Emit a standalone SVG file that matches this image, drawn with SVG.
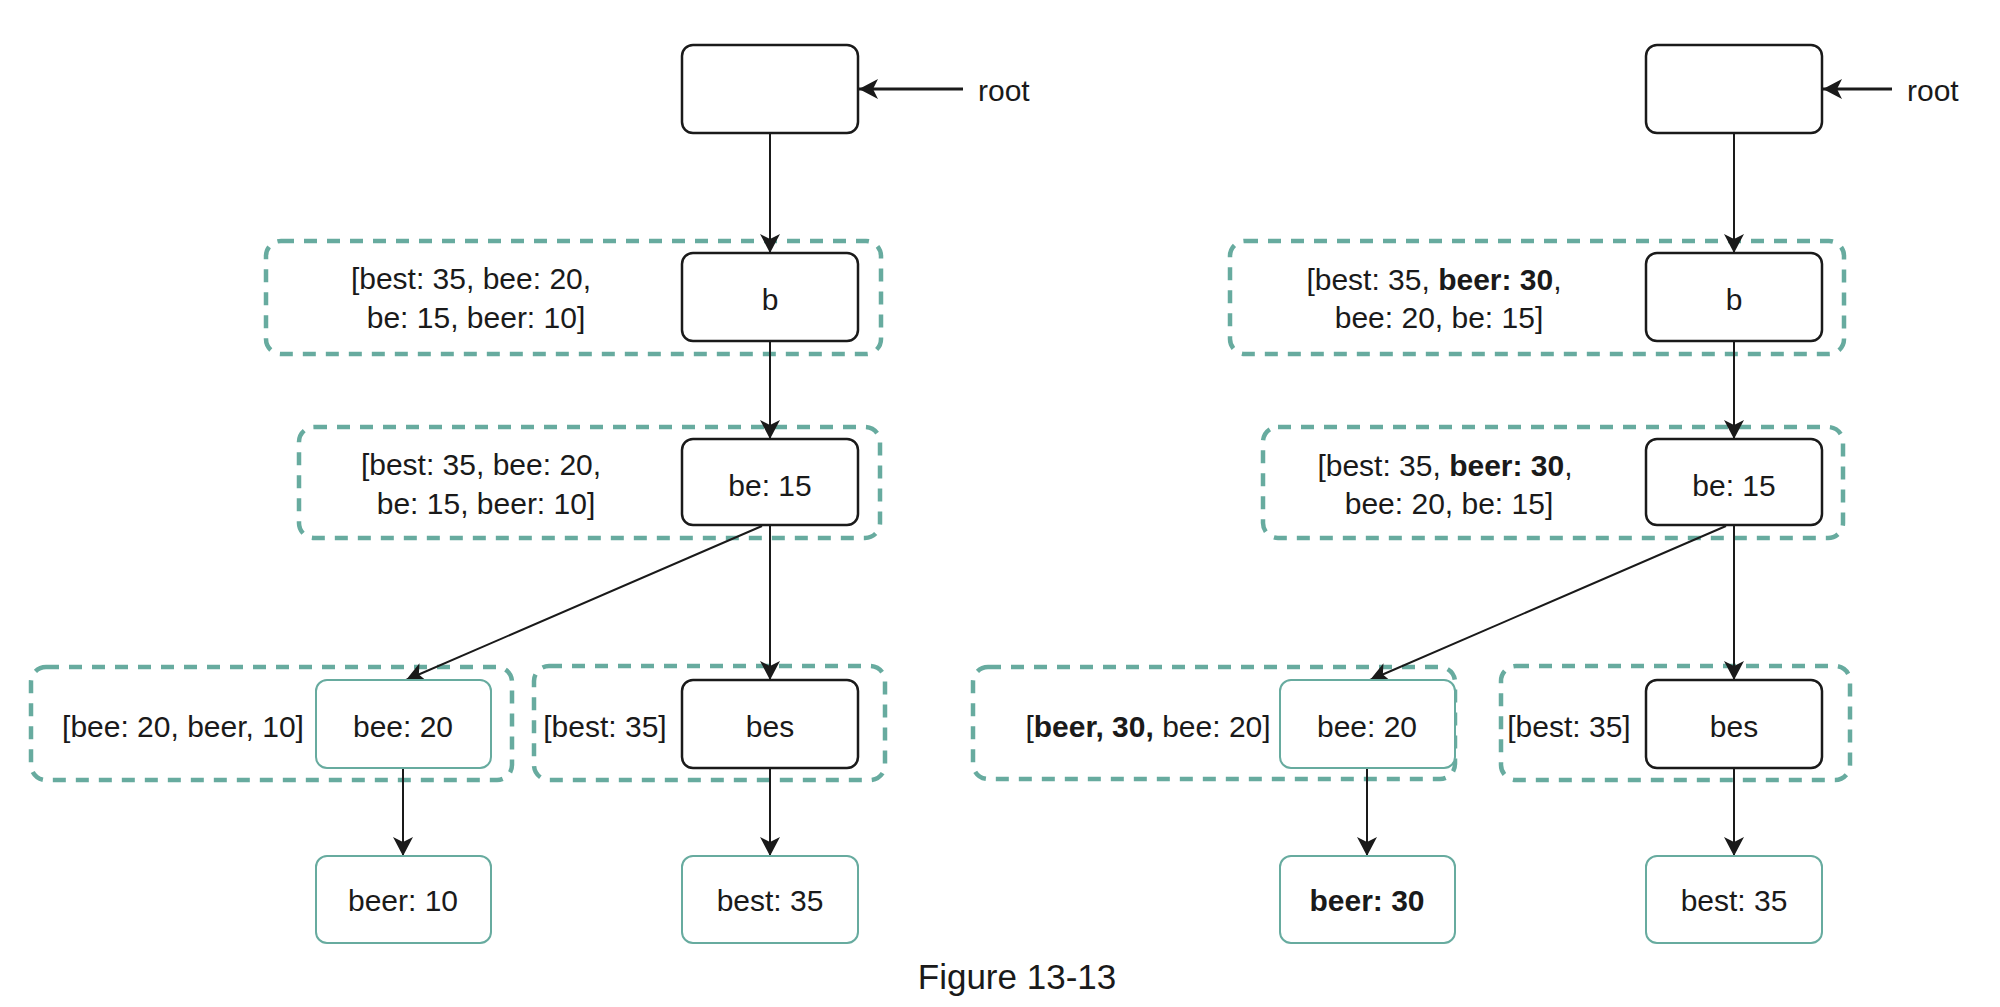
<svg xmlns="http://www.w3.org/2000/svg" width="2000" height="1007" viewBox="0 0 2000 1007">
<style>
  text { font-family: "Liberation Sans", Arial, sans-serif; font-size: 30px; fill: #1a1a1a; }
  .mid { text-anchor: middle; }
  .b { font-weight: bold; }
  .node { fill: #ffffff; stroke: #1a1a1a; stroke-width: 2.5; }
  .leaf { fill: #ffffff; stroke: #67AB9F; stroke-width: 2; }
  .grp { fill: none; stroke: #67AB9F; stroke-width: 4.5; stroke-dasharray: 13 10; }
  .edge { fill: none; stroke: #1a1a1a; stroke-width: 2; marker-end: url(#arrow); }
  .edge2 { fill: none; stroke: #1a1a1a; stroke-width: 3; marker-end: url(#arrow); }
</style>
<defs>
  <marker id="arrow" markerUnits="userSpaceOnUse" markerWidth="22" markerHeight="22" refX="19" refY="10" orient="auto">
    <path d="M0,0 L19,10 L0,20 L5,10 Z" fill="#1a1a1a"/>
  </marker>
</defs>
<rect x="0" y="0" width="2000" height="1007" fill="#ffffff"/>

<!-- dashed groups -->
<g id="groups">
  <rect class="grp" x="266" y="241" width="615" height="113" rx="15"/>
  <rect class="grp" x="299" y="427" width="581" height="111" rx="15"/>
  <rect class="grp" x="31" y="667" width="481" height="113" rx="15"/>
  <rect class="grp" x="534" y="666" width="351" height="114" rx="15"/>
  <rect class="grp" x="1230" y="241" width="614" height="113" rx="15"/>
  <rect class="grp" x="1263" y="427" width="580" height="111" rx="15"/>
  <rect class="grp" x="973" y="667" width="482" height="112" rx="15"/>
  <rect class="grp" x="1501" y="666" width="349" height="114" rx="15"/>
</g>

<!-- connectors -->
<g id="connectors">
  <line class="edge2" x1="963" y1="89" x2="859" y2="89"/>
  <line class="edge" x1="770" y1="133" x2="770" y2="253"/>
  <line class="edge" x1="770" y1="341" x2="770" y2="439"/>
  <line class="edge" x1="770" y1="525" x2="770" y2="680"/>
  <line class="edge" x1="762" y1="526" x2="406" y2="680"/>
  <line class="edge" x1="403" y1="768" x2="403" y2="856"/>
  <line class="edge" x1="770" y1="768" x2="770" y2="856"/>

  <line class="edge2" x1="1892" y1="89" x2="1823" y2="89"/>
  <line class="edge" x1="1734" y1="133" x2="1734" y2="253"/>
  <line class="edge" x1="1734" y1="341" x2="1734" y2="439"/>
  <line class="edge" x1="1734" y1="525" x2="1734" y2="680"/>
  <line class="edge" x1="1726" y1="526" x2="1370" y2="680"/>
  <line class="edge" x1="1367" y1="768" x2="1367" y2="856"/>
  <line class="edge" x1="1734" y1="768" x2="1734" y2="856"/>
</g>

<!-- left tree -->
<g id="L-root">
  <rect class="node" x="682" y="45" width="176" height="88" rx="11"/>
  <text x="978" y="101">root</text>
</g>
<g id="L-b">
  <rect class="node" x="682" y="253" width="176" height="88" rx="11"/>
  <text class="mid" x="770" y="310">b</text>
  <text class="mid" x="471" y="289">[best: 35, bee: 20,</text>
  <text class="mid" x="476" y="328">be: 15, beer: 10]</text>
</g>
<g id="L-be">
  <rect class="node" x="682" y="439" width="176" height="86" rx="11"/>
  <text class="mid" x="770" y="496">be: 15</text>
  <text class="mid" x="481" y="475">[best: 35, bee: 20,</text>
  <text class="mid" x="486" y="514">be: 15, beer: 10]</text>
</g>
<g id="L-bee">
  <rect class="leaf" x="316" y="680" width="175" height="88" rx="11"/>
  <text class="mid" x="403" y="737">bee: 20</text>
  <text class="mid" x="183" y="737">[bee: 20, beer, 10]</text>
</g>
<g id="L-bes">
  <rect class="node" x="682" y="680" width="176" height="88" rx="11"/>
  <text class="mid" x="770" y="737">bes</text>
  <text class="mid" x="605" y="737">[best: 35]</text>
</g>
<g id="L-beer">
  <rect class="leaf" x="316" y="856" width="175" height="87" rx="11"/>
  <text class="mid" x="403" y="911">beer: 10</text>
</g>
<g id="L-best">
  <rect class="leaf" x="682" y="856" width="176" height="87" rx="11"/>
  <text class="mid" x="770" y="911">best: 35</text>
</g>

<!-- right tree -->
<g id="R-root">
  <rect class="node" x="1646" y="45" width="176" height="88" rx="11"/>
  <text x="1907" y="101">root</text>
</g>
<g id="R-b">
  <rect class="node" x="1646" y="253" width="176" height="88" rx="11"/>
  <text class="mid" x="1734" y="310">b</text>
  <text class="mid" x="1434" y="290">[best: 35, <tspan class="b">beer: 30</tspan>,</text>
  <text class="mid" x="1439" y="328">bee: 20, be: 15]</text>
</g>
<g id="R-be">
  <rect class="node" x="1646" y="439" width="176" height="86" rx="11"/>
  <text class="mid" x="1734" y="496">be: 15</text>
  <text class="mid" x="1445" y="476">[best: 35, <tspan class="b">beer: 30</tspan>,</text>
  <text class="mid" x="1449" y="514">bee: 20, be: 15]</text>
</g>
<g id="R-bee">
  <rect class="leaf" x="1280" y="680" width="175" height="88" rx="11"/>
  <text class="mid" x="1367" y="737">bee: 20</text>
  <text class="mid" x="1148" y="737">[<tspan class="b">beer, 30,</tspan> bee: 20]</text>
</g>
<g id="R-bes">
  <rect class="node" x="1646" y="680" width="176" height="88" rx="11"/>
  <text class="mid" x="1734" y="737">bes</text>
  <text class="mid" x="1569" y="737">[best: 35]</text>
</g>
<g id="R-beer">
  <rect class="leaf" x="1280" y="856" width="175" height="87" rx="11"/>
  <text class="mid b" x="1367" y="911">beer: 30</text>
</g>
<g id="R-best">
  <rect class="leaf" x="1646" y="856" width="176" height="87" rx="11"/>
  <text class="mid" x="1734" y="911">best: 35</text>
</g>

<g id="caption">
  <text class="mid" x="1017" y="989" style="font-size:35px">Figure 13-13</text>
</g>
</svg>
